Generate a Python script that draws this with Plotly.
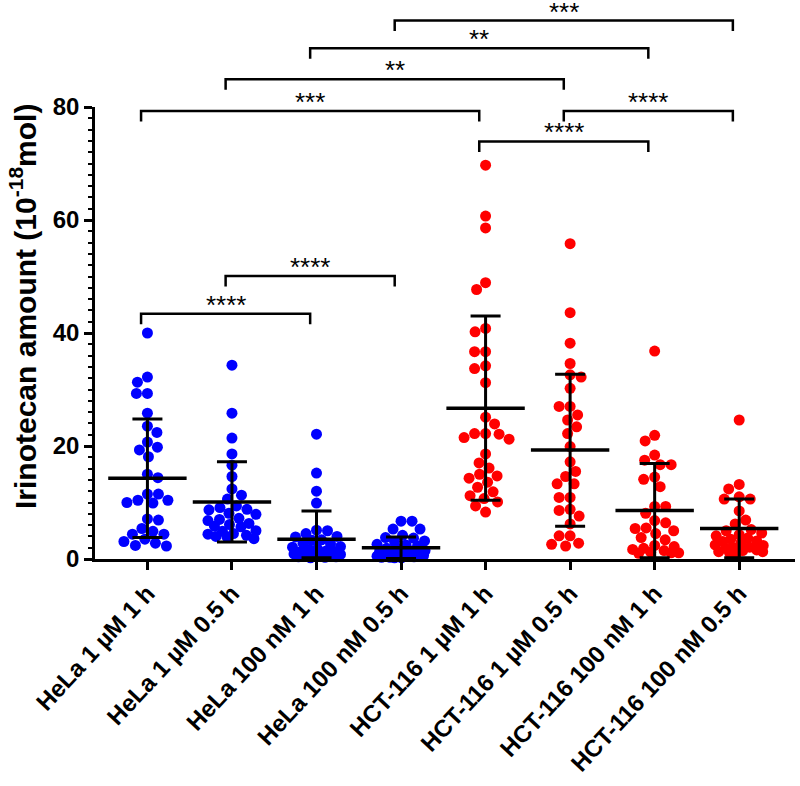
import numpy as np
import plotly.graph_objects as go

categories = ["HeLa 1 µM 1 h", "HeLa 1 µM 0.5 h", "HeLa 100 nM 1 h", "HeLa 100 nM 0.5 h",
              "HCT-116 1 µM 1 h", "HCT-116 1 µM 0.5 h", "HCT-116 100 nM 1 h", "HCT-116 100 nM 0.5 h"]

hela_1uM_1h = [40.0, 31.3, 32.2, 29.3, 29.3, 25.8, 23.5, 22.4, 20.7, 19.8, 19.3, 18.1, 14.4, 15.0,
               11.5, 10.4, 11.5, 10.0, 9.9, 10.4, 6.9, 7.1, 5.4, 4.4, 4.4, 4.9, 3.5, 2.8, 3.1, 2.3, 2.4]
hela_1uM_05h = [34.3, 25.8, 21.4, 18.6, 16.6, 14.6, 12.4, 11.3, 10.6, 9.4, 9.1, 8.8, 8.7, 8.1, 7.9,
                7.2, 7.0, 6.8, 6.3, 6.1, 5.8, 5.7, 5.0, 4.9, 4.5, 4.4, 4.2, 4.0, 3.9, 3.6]
hela_100nM_1h = [22.1, 15.2, 12.0, 9.9, 5.1, 5.0, 4.5, 4.0, 3.9, 3.4, 3.3, 2.8, 2.7, 2.2, 2.1, 1.8,
                 1.7, 1.4, 1.3, 1.2, 0.9, 0.9, 0.8, 0.6, 0.6, 0.5, 0.4, 0.4, 0.3, 0.2]
hela_100nM_05h = [6.7, 6.7, 5.3, 5.3, 4.2, 3.8, 3.7, 3.2, 3.1, 2.6, 2.5, 2.3, 1.9, 1.8, 1.5, 1.4,
                  1.3, 1.1, 0.9, 0.9, 0.8, 0.7, 0.6, 0.5, 0.5, 0.4, 0.3, 0.3, 0.2, 0.2]
hct_1uM_1h = [69.7, 60.7, 58.6, 47.7, 48.9, 40.2, 40.8, 36.7, 36.7, 33.7, 34.2, 31.2, 25.1, 23.9,
              21.5, 22.2, 22.1, 22.2, 21.2, 18.6, 17.0, 16.1, 15.0, 14.3, 14.7, 13.6, 12.7, 11.9,
              10.7, 11.2, 10.1, 9.4, 8.3]
hct_1uM_05h = [55.8, 43.6, 38.2, 34.6, 32.2, 32.6, 30.2, 27.0, 27.0, 25.5, 24.6, 23.4, 22.2, 19.9,
               17.2, 15.5, 14.6, 13.3, 13.3, 10.9, 10.9, 8.6, 8.8, 7.6, 6.2, 4.1, 4.1, 2.6, 2.8, 2.3]
hct_100nM_1h = [36.8, 20.9, 21.9, 18.4, 16.7, 16.7, 17.5, 14.5, 14.1, 12.8, 9.3, 9.3, 8.1, 6.4, 6.8,
                5.4, 5.5, 5.0, 4.5, 3.8, 3.4, 2.4, 1.9, 1.5, 1.7, 1.1, 1.2, 1.0, 1.1, 2.2]
hct_100nM_05h = [24.6, 13.2, 12.4, 11.0, 10.6, 10.6, 8.5, 6.9, 6.2, 5.2, 5.0, 4.6, 4.3, 4.1, 3.7,
                 3.5, 3.2, 3.1, 2.8, 2.5, 2.4, 2.1, 2.0, 1.9, 1.6, 1.5, 1.3, 1.3, 1.1, 1.0]

group_values = [hela_1uM_1h, hela_1uM_05h, hela_100nM_1h, hela_100nM_05h,
                hct_1uM_1h, hct_1uM_05h, hct_100nM_1h, hct_100nM_05h]
group_colors = ["#0000FF"] * 4 + ["#FF0000"] * 4

# mean and SD bar ends
means = [14.3, 10.1, 3.5, 2.0, 26.7, 19.3, 8.6, 5.4]
sd_top = [24.8, 17.2, 8.5, 3.9, 43.0, 32.7, 16.9, 10.6]
sd_bottom = [3.8, 3.0, 0.2, 0.1, 10.4, 5.8, 0.2, 0.2]

# significance brackets
bracket_from = [3, 2, 1, 0, 5, 4, 1, 0]
bracket_to = [7, 6, 5, 4, 7, 6, 3, 2]
bracket_level = [95.3, 90.4, 84.9, 79.3, 79.3, 73.9, 50.1, 43.4]
bracket_label = ["***", "**", "**", "***", "****", "****", "****", "****"]

# layout geometry
W, H = 800, 786
ML, MT = 95, 107
PW, PH = 700, 452
MR, MB = W - ML - PW, H - MT - PH
XMIN, XMAX = -0.62, 7.66
YMIN, YMAX = 0, 80
X_PX = PW / (XMAX - XMIN)
Y_PX = PH / (YMAX - YMIN)


def swarm(vals, d=11.0, maxw=24.0):
    vals = np.asarray(vals, dtype=float)
    order = np.argsort(-vals, kind="stable")
    placed = []
    offs = np.zeros(len(vals))
    steps = np.arange(0.5, maxw + 0.01, 0.5)
    for n, idx in enumerate(order):
        y = vals[idx] * Y_PX
        cands = [0.0]
        for k in steps:
            cands += ([-k, k] if n % 2 == 0 else [k, -k])
        chosen, best_c, best_md = None, 0.0, -1.0
        for c in cands:
            md = min((np.hypot(c - px, y - py) for px, py in placed), default=1e9)
            if md >= d:
                chosen = c
                break
            if md > best_md:
                best_md, best_c = md, c
        if chosen is None:
            chosen = best_c
        placed.append((chosen, y))
        offs[idx] = chosen / X_PX
    return offs


fig = go.Figure()

for i, vals in enumerate(group_values):
    xs = i + swarm(vals)
    fig.add_trace(go.Scatter(
        x=xs, y=vals, mode="markers",
        marker=dict(size=11, color=group_colors[i], line=dict(width=0)),
        cliponaxis=False, showlegend=False, hoverinfo="y"))

fig.add_trace(go.Scatter(
    x=list(range(len(categories))), y=means, mode="markers",
    marker=dict(symbol="line-ew", size=56, color="black", line=dict(width=3.5, color="black")),
    error_y=dict(type="data", symmetric=False,
                 array=[t - m for t, m in zip(sd_top, means)],
                 arrayminus=[m - b for m, b in zip(means, sd_bottom)],
                 color="black", thickness=3, width=15),
    cliponaxis=False, showlegend=False, hoverinfo="skip"))

shapes = []
annotations = []
off = -0.075
drop = 1.85
for a, b, lvl, lab in zip(bracket_from, bracket_to, bracket_level, bracket_label):
    xa, xb = a + off, b + off
    shapes.append(dict(type="path", xref="x", yref="paper",
                       path=f"M {xa} {(lvl - drop) / YMAX} L {xa} {lvl / YMAX} L {xb} {lvl / YMAX} L {xb} {(lvl - drop) / YMAX}",
                       line=dict(color="black", width=2.5)))
    annotations.append(dict(x=(xa + xb) / 2, y=lvl / YMAX, xref="x", yref="paper", text=lab,
                            showarrow=False, xanchor="center", yanchor="bottom", yshift=-8,
                            font=dict(family="Liberation Sans", size=26, color="black")))

annotations.append(dict(x=(23 - ML) / PW, y=(MT + PH - 307) / PH,
                        xref="paper", yref="paper",
                        text="Irinotecan amount (10<sup>-18</sup>mol)", textangle=-90, showarrow=False,
                        xanchor="center", yanchor="middle",
                        font=dict(family="Liberation Sans", size=30, color="black", weight="bold")))

fig.update_layout(
    width=W, height=H, margin=dict(l=ML, r=MR, t=MT, b=MB, pad=0),
    plot_bgcolor="white", paper_bgcolor="white",
    shapes=shapes, annotations=annotations, showlegend=False,
    xaxis=dict(range=[XMIN, XMAX], tickmode="array", tickvals=list(range(len(categories))),
               ticktext=categories, tickangle=-47, showgrid=False, zeroline=False,
               showline=True, linecolor="black", linewidth=2.5,
               ticks="outside", ticklen=8, tickwidth=2.5, tickcolor="black",
               tickfont=dict(family="Liberation Sans", size=24, color="black", weight="bold")),
    yaxis=dict(range=[YMIN, YMAX], tickvals=[0, 20, 40, 60, 80], showgrid=False, zeroline=False,
               showline=True, linecolor="black", linewidth=2.5,
               ticks="outside", ticklen=8, tickwidth=2.5, tickcolor="black",
               minor=dict(dtick=2, ticks="outside", ticklen=4, tickwidth=2, tickcolor="black", showgrid=False),
               tickfont=dict(family="Liberation Sans", size=24, color="black", weight="bold")),
)

fig.write_html("out.html", config={"displayModeBar": False},
               post_script="document.body.style.margin='0px';")
